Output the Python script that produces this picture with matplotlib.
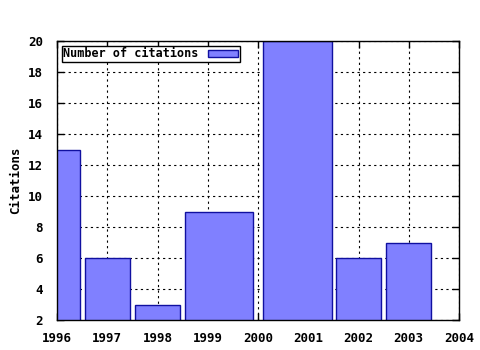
import matplotlib
matplotlib.use("Agg")
import matplotlib.pyplot as plt

years = [1996, 1997, 1998, 1999.225, 2000.785, 2002, 2003]
citations = [13, 6, 3, 9, 20, 6, 7]
widths = [0.9, 0.9, 0.9, 1.35, 1.37, 0.9, 0.9]
xticks = list(range(1996, 2005))
yticks = list(range(2, 21, 2))

plt.rcParams['font.family'] = 'DejaVu Sans Mono'
plt.rcParams['font.weight'] = 'bold'
plt.rcParams['font.size'] = 9

fig = plt.figure(figsize=(4.8, 3.5), dpi=100)
ax = fig.add_axes([57/480, 30/350, 402/480, 279/350])

ax.bar(years, citations, width=widths, color='#8080ff', edgecolor='#1010a0',
       linewidth=1, label='Number of citations', zorder=3)

ax.set_xlim(1996, 2004)
ax.set_ylim(2, 20)
ax.set_xticks(xticks)
ax.set_yticks(yticks)
ax.grid(True, color='black', linestyle=(0, (2, 3)), linewidth=0.8, zorder=1)
ax.tick_params(direction='in', top=True, right=True, length=5, width=1,
               labelsize=9)
ax.tick_params(axis='x', pad=9)
ax.tick_params(axis='y', pad=10)
for s in ax.spines.values():
    s.set_linewidth(1)
    s.set_zorder(4)
ax.set_ylabel('Citations', fontsize=9, fontweight='bold', labelpad=4)

leg = ax.legend(loc='upper left', markerfirst=False, frameon=True, fancybox=False,
                edgecolor='black', framealpha=1, borderpad=0.15, handlelength=2.5,
                handleheight=0.6, borderaxespad=0.4, handletextpad=0.8,
                fontsize=8.5)
leg.get_frame().set_linewidth(1)
leg.set_zorder(5)

fig.savefig('out.png', dpi=100)
